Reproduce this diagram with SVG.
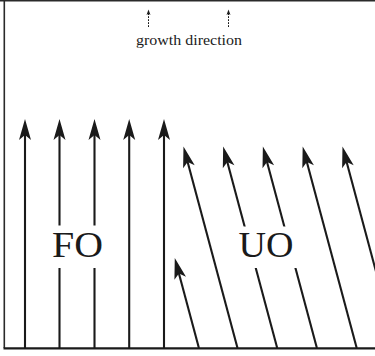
<svg xmlns="http://www.w3.org/2000/svg" width="375" height="356" viewBox="0 0 375 356">
<style>
.frame{stroke:#2a2a2a;stroke-width:1.6;fill:none}
.arr{stroke:#1a1a1a;stroke-width:2.1;fill:none;marker-end:url(#head)}
.dash{stroke:#1a1a1a;stroke-width:1;stroke-dasharray:1.8 1.2;fill:none;marker-end:url(#small)}
.lbl{font-family:"Liberation Serif","DejaVu Serif",serif;fill:#1a1a1a}
.bg{fill:#ffffff}
</style>
<defs>
<marker id="head" viewBox="-22 -7 23 14" refX="-14" refY="0" markerWidth="23" markerHeight="14" markerUnits="userSpaceOnUse" orient="auto">
<path d="M0,0 L-21,-6 L-16,0 L-21,6 Z" fill="#1a1a1a"/>
</marker>
<marker id="small" viewBox="-6 -3 7 6" refX="-3.5" refY="0" markerWidth="7" markerHeight="6" markerUnits="userSpaceOnUse" orient="auto">
<path d="M0,0 L-5.5,-2 L-4.2,0 L-5.5,2 Z" fill="#1a1a1a"/>
</marker>
</defs>
<rect width="375" height="356" fill="#ffffff"/>
<g id="frame">
<line class="frame" x1="0" y1="0.8" x2="375" y2="0.8"/>
<line class="frame" x1="4.3" y1="0" x2="4.3" y2="348"/>
</g>
<g id="legend">
<line class="dash" x1="148.5" y1="27" x2="148.5" y2="13"/>
<line class="dash" x1="228.5" y1="27" x2="228.5" y2="13"/>
<text class="lbl" x="189" y="44.5" font-size="15" text-anchor="middle" textLength="106" lengthAdjust="spacingAndGlyphs">growth direction</text>
</g>
<g id="connectors">
<line class="arr" x1="25" y1="348" x2="25" y2="133"/>
<line class="arr" x1="59.5" y1="348" x2="59.5" y2="133"/>
<line class="arr" x1="94.5" y1="348" x2="94.5" y2="133"/>
<line class="arr" x1="129.2" y1="348" x2="129.2" y2="133"/>
<line class="arr" x1="164" y1="348" x2="164" y2="133"/>
<line class="arr" x1="237.5" y1="348" x2="187.1" y2="160"/>
<line class="arr" x1="277.2" y1="348" x2="226.8" y2="160"/>
<line class="arr" x1="316.9" y1="348" x2="266.5" y2="160"/>
<line class="arr" x1="356.7" y1="348" x2="306.3" y2="160"/>
<line class="arr" x1="396.5" y1="348" x2="346.1" y2="160"/>
<line class="arr" x1="198.9" y1="348" x2="178.4" y2="271.5"/>
</g>
<g id="FO">
<rect class="bg" x="46" y="225.5" width="63" height="42.5"/>
<text class="lbl" x="77.5" y="256.7" font-size="36.5" text-anchor="middle" textLength="51" lengthAdjust="spacingAndGlyphs">FO</text>
</g>
<g id="UO">
<rect class="bg" x="235" y="226.5" width="63" height="41.5"/>
<text class="lbl" x="266" y="256.7" font-size="36.5" text-anchor="middle" textLength="55" lengthAdjust="spacingAndGlyphs">UO</text>
</g>
<g id="baseline">
<line stroke="#1a1a1a" stroke-width="2.2" x1="3.5" y1="348.3" x2="375" y2="348.3"/>
</g>
</svg>
